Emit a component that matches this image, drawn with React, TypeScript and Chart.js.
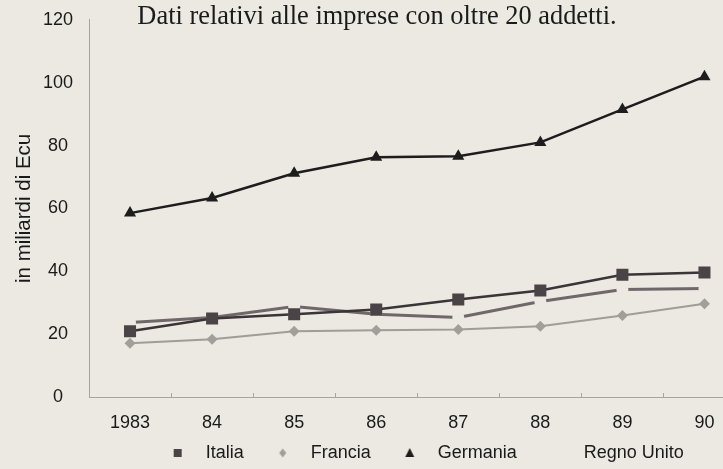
import React, { useEffect, useRef } from 'react';
import { Chart, registerables } from 'chart.js';

Chart.register(...registerables);

// ---- data ----
const years = ['1983', '84', '85', '86', '87', '88', '89', '90'];
const italia = [20.9, 25.0, 26.3, 27.8, 31.0, 33.9, 38.9, 39.6];
const francia = [17.1, 18.4, 20.9, 21.2, 21.5, 22.5, 25.9, 29.7];
const germania = [58.5, 63.3, 71.2, 76.3, 76.6, 81.0, 91.5, 101.9];
const regnoUnito = [23.7, 25.3, 28.8, 26.3, 25.3, 30.4, 34.2, 34.5];
const seriesNames = ['Italia', 'Francia', 'Germania', 'Regno Unito'];
const yTicks = [0, 20, 40, 60, 80, 100, 120];
const chartTitle = 'Dati relativi alle imprese con oltre 20 addetti.';
const yTitle = 'in miliardi di Ecu';

const BG = '#ece8e2';
const TEXT = '#1a1a1a';
const AXIS = '#a8a4a0';
const SANS = "'Liberation Sans', Arial, Helvetica, sans-serif";
const SERIF = "'Liberation Serif', 'Times New Roman', serif";

function legendSymbol(kind: string, color: string): HTMLCanvasElement {
  const c = document.createElement('canvas');
  c.width = 30;
  c.height = 14;
  const g = c.getContext('2d')!;
  const cx = 19;
  const cy = 7;
  g.fillStyle = color;
  g.beginPath();
  if (kind === 'square') {
    g.rect(cx - 4, cy - 4, 8, 8);
  } else if (kind === 'diamond') {
    g.moveTo(cx, cy - 4.5);
    g.lineTo(cx + 3.5, cy);
    g.lineTo(cx, cy + 4.5);
    g.lineTo(cx - 3.5, cy);
    g.closePath();
  } else if (kind === 'triangle') {
    g.moveTo(cx, cy - 5);
    g.lineTo(cx + 4.5, cy + 4);
    g.lineTo(cx - 4.5, cy + 4);
    g.closePath();
  }
  g.fill();
  return c;
}

export default function App() {
  const ref = useRef<HTMLCanvasElement | null>(null);

  useEffect(() => {
    if (!ref.current) return;
    const symbols = [
      legendSymbol('square', '#4a4446'),
      legendSymbol('diamond', '#a29e9a'),
      legendSymbol('triangle', '#1e1c1c'),
      legendSymbol('none', BG),
    ];
    const chart = new Chart(ref.current, {
      type: 'line',
      data: {
        labels: years,
        datasets: [
          {
            label: seriesNames[0],
            data: italia,
            borderColor: '#3a3537',
            borderWidth: 2.5,
            pointStyle: 'rect',
            pointRadius: 8.5,
            pointHoverRadius: 8.5,
            pointBackgroundColor: '#4a4446',
            pointBorderWidth: 0,
            tension: 0,
          },
          {
            label: seriesNames[1],
            data: francia,
            borderColor: '#a09c98',
            borderWidth: 2,
            pointStyle: 'rectRot',
            pointRadius: 5.5,
            pointHoverRadius: 5.5,
            pointBackgroundColor: '#a29e9a',
            pointBorderWidth: 0,
            tension: 0,
          },
          {
            label: seriesNames[2],
            data: germania,
            borderColor: '#1e1c1c',
            borderWidth: 2.5,
            pointStyle: 'triangle',
            pointRadius: 7,
            pointHoverRadius: 7,
            pointBackgroundColor: '#1e1c1c',
            pointBorderWidth: 0,
            tension: 0,
          },
          {
            label: seriesNames[3],
            data: regnoUnito,
            borderColor: '#6e686a',
            borderWidth: 3,
            pointStyle: 'circle',
            pointRadius: 6,
            pointHoverRadius: 6,
            pointBackgroundColor: BG,
            pointBorderWidth: 0,
            tension: 0,
          },
        ],
      },
      options: {
        animation: false,
        responsive: false,
        maintainAspectRatio: false,
        devicePixelRatio: 1,
        layout: { padding: 0 },
        events: [],
        plugins: {
          title: {
            display: true,
            text: chartTitle,
            color: TEXT,
            font: { family: SERIF, size: 26.4, weight: 'normal' },
            padding: { top: 0, bottom: -13 },
          },
          legend: {
            position: 'bottom',
            fullSize: false,
            labels: {
              usePointStyle: true,
              pointStyleWidth: 46,
              padding: 12,
              color: TEXT,
              font: { family: SANS, size: 18 },
              generateLabels: () =>
                seriesNames.map((name, i) => ({
                  text: name,
                  pointStyle: symbols[i] as any,
                  fillStyle: 'transparent',
                  strokeStyle: 'transparent',
                  lineWidth: 0,
                  hidden: false,
                  datasetIndex: i,
                  fontColor: TEXT,
                })),
            },
          },
          tooltip: { enabled: false },
        },
        scales: {
          x: {
            type: 'category',
            offset: true,
            grid: {
              display: true,
              offset: true,
              drawOnChartArea: false,
              drawTicks: true,
              tickLength: -4,
              color: AXIS,
            },
            border: { display: true, color: AXIS, width: 1 },
            ticks: {
              color: TEXT,
              font: { family: SANS, size: 18 },
              padding: 19,
              maxRotation: 0,
              autoSkip: false,
            },
            afterFit: (s: any) => {
              s.height = 35;
            },
          },
          y: {
            min: 0,
            max: 120,
            grid: {
              display: true,
              drawOnChartArea: false,
              drawTicks: true,
              tickLength: 7,
              color: 'rgba(0,0,0,0)',
            },
            border: { display: true, color: AXIS, width: 1 },
            afterBuildTicks: (s: any) => {
              s.ticks = yTicks.map((v) => ({ value: v }));
            },
            ticks: {
              color: TEXT,
              font: { family: SANS, size: 18 },
              crossAlign: 'center',
              padding: 9,
            },
            title: {
              display: true,
              text: yTitle,
              color: TEXT,
              font: { family: SANS, size: 20.5 },
              padding: { top: 12, bottom: 0 },
            },
            afterFit: (s: any) => {
              s.width = 89;
            },
          },
        },
      } as any,
    });
    return () => chart.destroy();
  }, []);

  return (
    <div
      style={{
        position: 'fixed',
        left: 0,
        top: 0,
        width: 723,
        height: 469,
        overflow: 'hidden',
        background: BG,
      }}
    >
      <canvas ref={ref} width={754} height={472} style={{ display: 'block', width: 754, height: 472 }} />
    </div>
  );
}
